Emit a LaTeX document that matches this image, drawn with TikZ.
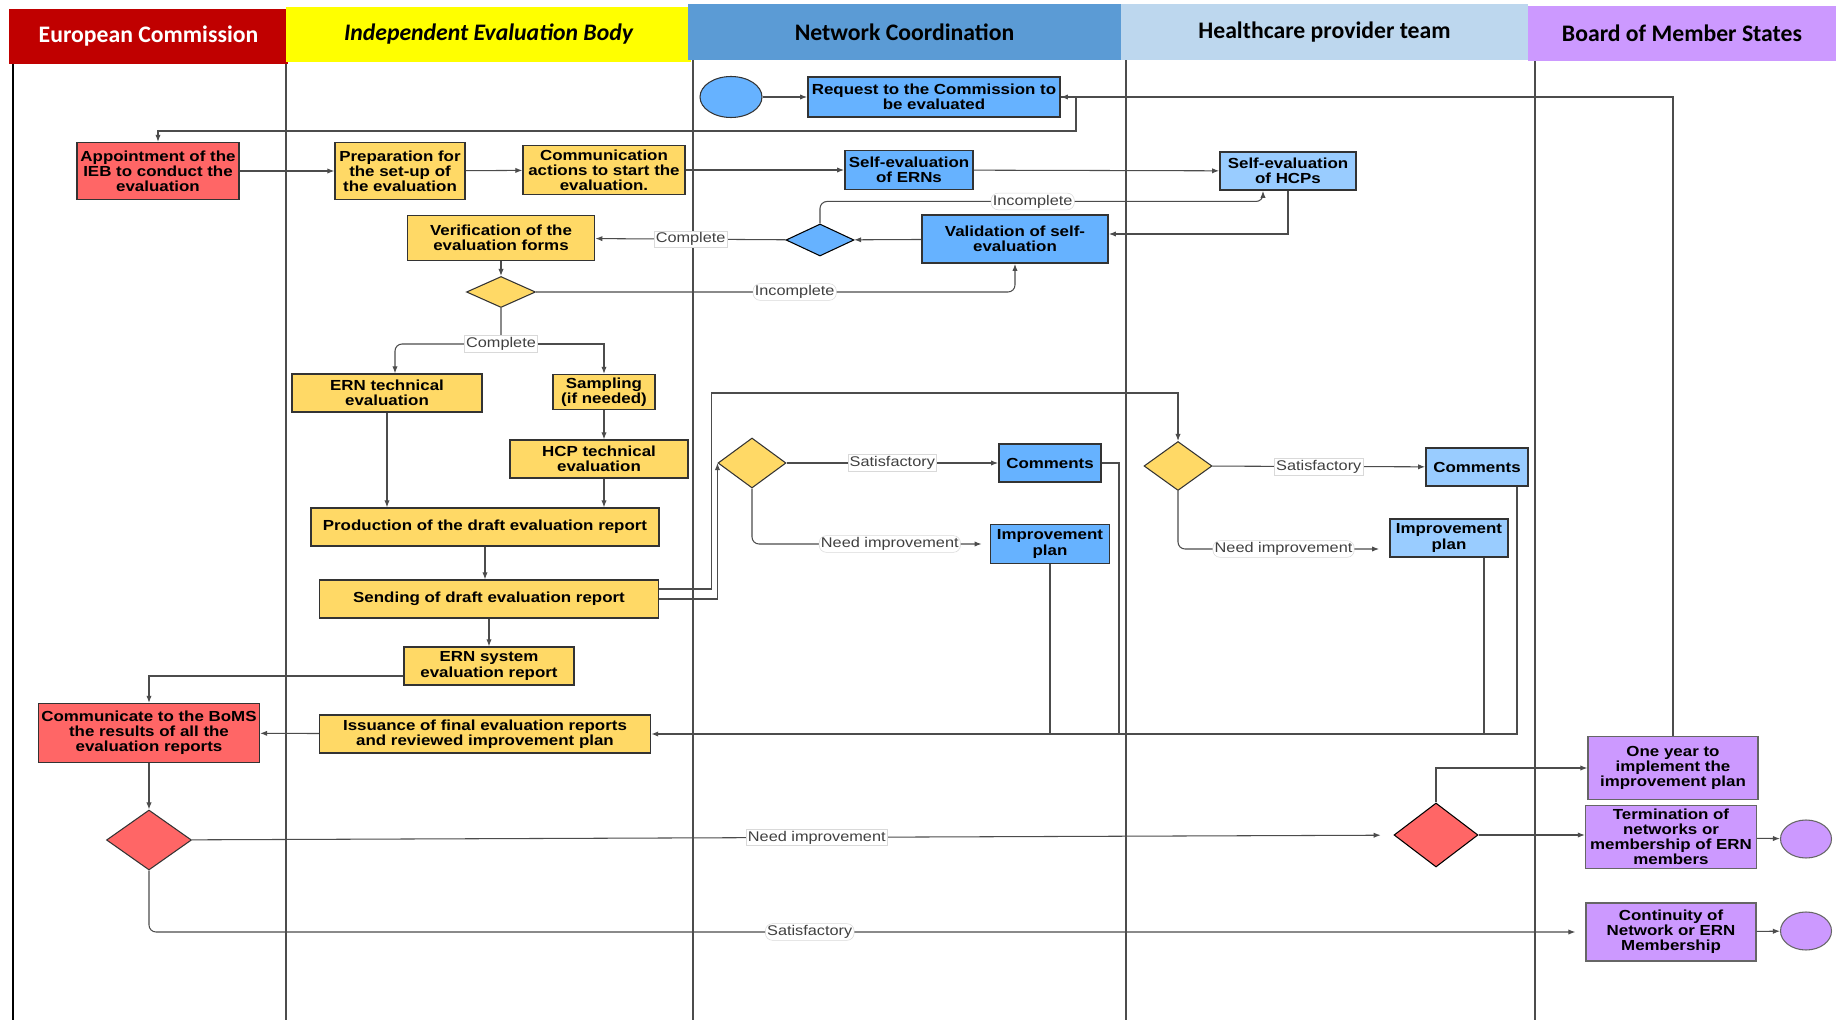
\documentclass[tikz,border=0pt]{standalone}
\usepackage{fontspec}
\setmainfont{Liberation Sans}[FakeStretch=1.16]
\newfontfamily\headfont{Carlito}
\usetikzlibrary{shapes.geometric, arrows.meta}
\definecolor{ecred}{HTML}{C00000}
\definecolor{iebyellow}{HTML}{FFFF00}
\definecolor{ncblue}{HTML}{5B9BD5}
\definecolor{hptblue}{HTML}{BDD7EE}
\definecolor{bmspurple}{HTML}{CC99FF}
\definecolor{redfill}{HTML}{FF6666}
\definecolor{yellowfill}{HTML}{FFD966}
\definecolor{bluefill}{HTML}{66B2FF}
\definecolor{lightfill}{HTML}{99CCFF}
\definecolor{purplefill}{HTML}{CC99FF}
\tikzset{
	dims/.style 2 args={minimum width=#1*0.02cm, minimum height=#2*0.02cm},
	task/.style={draw=black!80, rectangle, align=center, inner sep=1pt, line width=0.7pt, font=\bfseries\fontsize{8.3}{8.6}\selectfont},
	choice/.style={draw=black!80, diamond, inner sep=0pt, line width=0.6pt},
	terminal/.style={draw=black!80, ellipse, inner sep=0pt, line width=0.6pt},
	header/.style={rectangle, inner sep=0pt, font=\headfont\bfseries\fontsize{13.5}{14}\selectfont},
	answer/.style={fill=white, draw=gray!30, line width=0.3pt, inner sep=1pt, text=black!75, font=\fontsize{8}{8}\selectfont},
	flow/.style={draw=black!70, line width=0.6pt, -{Latex[length=4pt, width=3pt]}},
	link/.style={draw=black!70, line width=0.6pt}
}

\begin{document}
\begin{tikzpicture}[x=0.02cm, y=-0.02cm]
	\useasboundingbox (0,0) rectangle (1836,1020);
	\fill[white] (0,0) rectangle (1836,1020);

	% swimlanes
	\draw[line width=1.4pt] (13,64) -- (13,1020);
	\foreach \x in {286, 693, 1126, 1535}
		\draw[black!70, line width=0.6pt] (\x,60) -- (\x,1020);

	\node[header, fill=ecred, text=white, dims={279}{55}] (ec)  at (148.5,36.5) {European Commission};
	\node[header, fill=iebyellow, dims={405}{55}]         (ieb) at (488.5,34.5) {\itshape Independent Evaluation Body};
	\node[header, fill=ncblue, dims={433}{56}]            (nc)  at (904.5,32)   {Network Coordination};
	\node[header, fill=hptblue, dims={407}{56}]           (hpt) at (1324.5,32)  {Healthcare provider team};
	\node[header, fill=bmspurple, dims={308}{55}]         (bms) at (1682,33.5)  {Board of Member States};

	% steps
	\node[terminal, fill=bluefill, dims={62}{41}]                 (start)   at (731,97)   {};
	\node[task, fill=bluefill, line width=1pt, dims={252}{40}]    (req)     at (934,97)   {Request to the Commission to\\be evaluated};
	\node[task, fill=redfill, dims={162}{57}]                     (appt)    at (158,171)  {Appointment of the\\IEB to conduct the\\evaluation};
	\node[task, fill=yellowfill, dims={130}{57}]                  (prep)    at (400,171)  {Preparation for\\the set-up of\\the evaluation};
	\node[task, fill=yellowfill, dims={162}{49}]                  (comm)    at (604,170)  {Communication\\actions to start the\\evaluation.};
	\node[task, fill=bluefill, line width=1pt, dims={128}{39}]    (sern)    at (909,170)  {Self-evaluation\\of ERNs};
	\node[task, fill=lightfill, line width=1pt, dims={136}{38}]   (shcp)    at (1288,171) {Self-evaluation\\of HCPs};
	\node[task, fill=bluefill, line width=1pt, dims={186}{48}]    (valid)   at (1015,239) {Validation of self-\\evaluation};
	\node[choice, fill=bluefill, draw=black, dims={68}{32}]        (dblue)   at (820,240)  {};
	\node[task, fill=yellowfill, line width=1pt, dims={187}{45}]  (verif)   at (501,238)  {Verification of the\\evaluation forms};
	\node[choice, fill=yellowfill, dims={69}{31}]                 (dverif)  at (501,292)  {};
	\node[task, fill=yellowfill, dims={190}{38}]                  (erntech) at (387,393)  {ERN technical\\evaluation};
	\node[task, fill=yellowfill, dims={102}{35}]                  (sampl)   at (604,392)  {Sampling\\(if needed)};
	\node[task, fill=yellowfill, dims={178}{38}]                  (hcptech) at (599,459)  {HCP technical\\evaluation};
	\node[task, fill=yellowfill, dims={348}{38}]                  (prod)    at (485,527)  {Production of the draft evaluation report};
	\node[task, fill=yellowfill, dims={339}{38}]                  (send)    at (489,599)  {Sending of draft evaluation report};
	\node[task, fill=yellowfill, dims={170}{38}]                  (ernsys)  at (489,666)  {ERN system\\evaluation report};
	\node[task, fill=yellowfill, dims={331}{38}]                  (issue)   at (485,734)  {Issuance of final evaluation reports\\and reviewed improvement plan};
	\node[task, fill=redfill, dims={221}{59}]                     (boms)    at (149,733)  {Communicate to the BoMS\\the results of all the\\evaluation reports};
	\node[choice, fill=redfill, dims={85}{60}]                    (dcomm)   at (149,840)  {};

	\node[choice, fill=yellowfill, dims={68}{50}]                 (dnc)     at (752,463)  {};
	\node[task, fill=bluefill, line width=1pt, dims={102}{38}]    (comnc)   at (1050,463) {Comments};
	\node[task, fill=bluefill, line width=1pt, dims={119}{39}]    (impnc)   at (1050,544) {Improvement\\plan};
	\node[choice, fill=yellowfill, dims={68}{49}]                 (dhcp)    at (1178,466) {};
	\node[task, fill=lightfill, line width=1pt, dims={102}{38}]   (comhcp)  at (1477,467) {Comments};
	\node[task, fill=lightfill, line width=1pt, dims={118}{38}]   (imphcp)  at (1449,538) {Improvement\\plan};

	\node[choice, fill=redfill, draw=black, dims={84}{64}]        (dfinal)  at (1436,835) {};
	\node[task, fill=purplefill, draw=black!60, dims={170}{63}]   (oneyear) at (1673,768) {One year to\\implement the\\improvement plan};
	\node[task, fill=purplefill, draw=black!60, dims={171}{63}]   (termin)  at (1671,837) {Termination of\\networks or\\membership of ERN\\members};
	\node[task, fill=purplefill, draw=black!60, dims={170}{58}]   (contin)  at (1671,932) {Continuity of\\Network or ERN\\Membership};
	\node[terminal, fill=purplefill, draw=black!60, dims={51}{38}] (enda)   at (1806,839) {};
	\node[terminal, fill=purplefill, draw=black!60, dims={51}{38}] (endb)   at (1806,931) {};

	% connectors
	\draw[flow] (start) -- (req);
	\draw[flow] (oneyear.north) |- (req.east);
	\coordinate (back) at (1076,131);
	\draw[flow] (req.east) -| (back) -| (appt.north);
	\draw[flow] (appt) -- (prep);
	\draw[flow] (prep) -- (comm);
	\draw[flow] (comm) -- (sern);
	\draw[flow] (sern) -- (shcp);
	\draw[flow] (shcp.south) |- ([yshift=0.1cm]valid.east);
	\draw[flow] (valid) -- (dblue);
	\draw[flow] (dblue) -- node[answer] {Complete} (verif);
	\draw[flow, rounded corners=4pt] (dblue.north) -- ++(0,-22) -| node[answer, pos=0.24] {Incomplete} ([xshift=-0.5cm]shcp.south);
	\draw[flow] (verif) -- (dverif);
	\draw[flow, rounded corners=4pt] (dverif.east) -| node[answer, pos=0.27] {Incomplete} (valid.south);
	\draw[flow, rounded corners=4pt] (dverif.south) -- ++(0,36) coordinate (split) -| ([xshift=0.16cm]erntech.north);
	\draw[flow] (split) -| (sampl.north);
	\node[answer] at (split) {Complete};
	\draw[flow] (erntech.south) -- (erntech.south |- prod.north);
	\draw[flow] (sampl.south) -- (sampl.south |- hcptech.north);
	\draw[flow] (sampl.south |- hcptech.south) -- (sampl.south |- prod.north);
	\draw[flow] (prod.south) -- (prod.south |- send.north);
	\draw[flow] (send) -- (ernsys);
	\draw[flow] ([yshift=0.2cm]send.east) -- ++(52,0) -- ++(0,-196) -| (dhcp.north);
	\draw[flow] (send.east) -| (dnc.west);
	\draw[flow] ([yshift=-0.2cm]ernsys.west) -| (boms.north);
	\draw[flow] (issue) -- (boms);
	\draw[flow] (boms) -- (dcomm);

	\draw[flow] (dnc) -- node[answer] {Satisfactory} (comnc);
	\draw[flow, rounded corners=4pt, shorten >=0.16cm] (dnc.south) |- node[answer, pos=0.79] {Need improvement} (impnc.west);
	\draw[flow] (dhcp) -- node[answer] {Satisfactory} (comhcp);
	\draw[flow, rounded corners=4pt, shorten >=0.2cm] (dhcp.south) |- node[answer, pos=0.75] {Need improvement} ([yshift=-0.22cm]imphcp.west);

	\draw[flow, line width=1.1pt] (comnc.east) -- ++(17,0) |- (issue.east);
	\draw[link] (impnc.south) -- (impnc.south |- issue.east);
	\draw[link] ([xshift=0.8cm]comhcp.south) |- (impnc.south |- issue.east);
	\draw[link] ([xshift=0.7cm]imphcp.south) -- ([xshift=0.7cm]imphcp.south |- issue.east);

	\draw[flow, shorten >=0.26cm] (dcomm) -- node[answer, pos=0.52] {Need improvement} (dfinal);
	\draw[flow, rounded corners=4pt, shorten >=0.2cm] (dcomm.south) |- node[answer, pos=0.73] {Satisfactory} (contin.west);
	\draw[flow] (dfinal.north) |- (oneyear.west);
	\draw[flow] (dfinal.east) -- (dfinal.east -| termin.west);
	\draw[flow] (termin) -- (enda);
	\draw[flow] (contin) -- (endb);
\end{tikzpicture}
\end{document}
